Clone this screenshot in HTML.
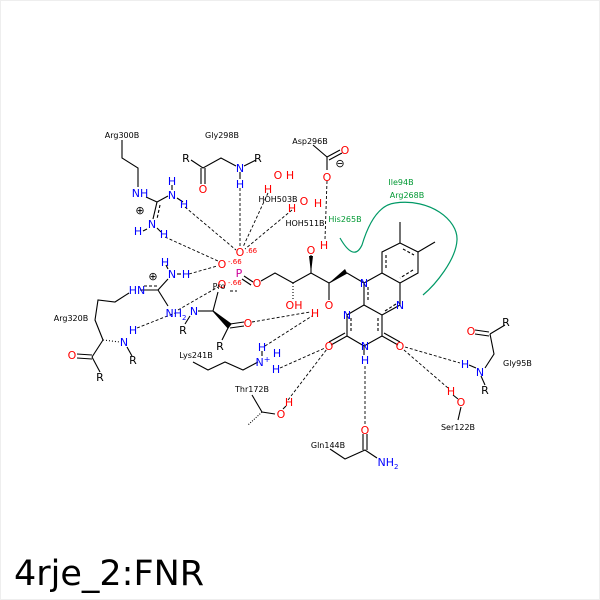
<!DOCTYPE html>
<html><head><meta charset="utf-8"><style>
html,body{margin:0;padding:0;background:#fff;}
svg{display:block;}
text{font-family:"DejaVu Sans","Liberation Sans",sans-serif;}
.s{font-size:8px;fill:#000;}
.b{font-size:11px;fill:#0000ff;}
.r{font-size:11px;fill:#ff0000;}
.g{font-size:8px;fill:#009933;}
.k{font-size:11px;fill:#000;}
</style></head><body>
<svg width="600" height="600" viewBox="0 0 600 600" xmlns="http://www.w3.org/2000/svg">
<rect width="600" height="600" fill="#fff"/>
<rect x="0.5" y="0.5" width="599" height="599" fill="none" stroke="#eee"/>
<g stroke="#000" stroke-width="1.1" fill="none">
<polyline points="400,243 418,252 418,273 400,283 382,273 382,252 400,243"/>
<line x1="400" y1="243" x2="400" y2="222"/><line x1="418" y1="252" x2="435" y2="242"/>
<line x1="403" y1="249" x2="414" y2="255" stroke-dasharray="3,2"/>
<line x1="413" y1="270" x2="400" y2="278" stroke-dasharray="3,2"/>
<line x1="386" y1="255" x2="386" y2="270" stroke-dasharray="3,2"/>
<polyline points="382,273 364,283 364,305 382,315 400,305 400,283"/>
<line x1="368" y1="287" x2="368" y2="302" stroke-dasharray="3,2"/>
<line x1="385" y1="311" x2="396" y2="304" stroke-dasharray="3,2"/>
<polyline points="364,305 347,315 347,336 364,346 382,336 382,315"/>
<line x1="351" y1="318" x2="351" y2="333" stroke-dasharray="3,2"/>
<line x1="378" y1="318" x2="378" y2="333" stroke-dasharray="3,2"/>
<line x1="347" y1="336" x2="331" y2="345"/><line x1="345" y1="333" x2="329" y2="342"/>
<line x1="382" y1="336" x2="398" y2="345"/><line x1="384" y1="333" x2="400" y2="342"/>
<line x1="364" y1="346" x2="364" y2="355"/>
<polyline points="364,283 347,273 329,283 311,273 293,283 275,273 261,281"/>
<line x1="311" y1="273" x2="311" y2="255"/>
<line x1="329" y1="283" x2="329" y2="300"/>
<line x1="293" y1="283" x2="293" y2="300" stroke-dasharray="1,2"/>
<line x1="244" y1="276" x2="253" y2="282"/><line x1="242" y1="279" x2="251" y2="285"/>
<polyline points="191,160 203,168 221,158 236,166"/><line x1="244" y1="166" x2="256" y2="160"/>
<line x1="201" y1="168" x2="201" y2="184"/><line x1="205" y1="168" x2="205" y2="184"/>
<line x1="240" y1="172" x2="240" y2="179"/>
<polyline points="313,145 327,157 327,170"/><line x1="327" y1="157" x2="340" y2="150"/><line x1="329" y1="160" x2="342" y2="153"/>
<polyline points="122,140 122,158 138,168 138,187"/>
<line x1="146" y1="197" x2="157" y2="202"/><line x1="157" y1="202" x2="168" y2="196"/>
<line x1="157" y1="202" x2="153" y2="219"/><line x1="160" y1="205" x2="157" y2="219" stroke-dasharray="3,2"/>
<line x1="172" y1="185" x2="172" y2="190"/><line x1="177" y1="198" x2="183" y2="202"/>
<line x1="147" y1="229" x2="143" y2="231"/><line x1="157" y1="228" x2="161" y2="232"/>
<line x1="140" y1="290" x2="158" y2="290"/><line x1="144" y1="286" x2="158" y2="286" stroke-dasharray="3,2"/>
<line x1="158" y1="290" x2="168" y2="279"/><line x1="158" y1="290" x2="168" y2="306"/>
<line x1="166" y1="265" x2="168" y2="269"/><line x1="177" y1="274" x2="181" y2="274"/>
<polyline points="129,293 115,302 98,300 95,320 103,340"/>
<line x1="103" y1="340" x2="120" y2="342" stroke-dasharray="1,2"/>
<line x1="103" y1="340" x2="92" y2="357"/><line x1="92" y1="357" x2="100" y2="372"/>
<line x1="92" y1="355" x2="77" y2="354"/><line x1="92" y1="359" x2="77" y2="358"/>
<line x1="127" y1="347" x2="132" y2="356"/>
<line x1="213" y1="311" x2="218" y2="292"/>
<line x1="213" y1="311" x2="198" y2="311"/><line x1="190" y1="316" x2="185" y2="324"/>
<polygon points="213,311 231,324 228,328" fill="#000"/>
<line x1="229" y1="326" x2="222" y2="340"/>
<line x1="230" y1="324" x2="244" y2="322"/><line x1="230" y1="328" x2="244" y2="326"/>
<line x1="230" y1="291" x2="237" y2="291" stroke-dasharray="3,2"/>
<polyline points="193,362 208,370 225,362 243,370 258,362"/>
<line x1="262" y1="351" x2="262" y2="356"/>
<polyline points="252,395 262,412 275,414"/>
<line x1="262" y1="412" x2="248" y2="425" stroke-dasharray="1,1.5"/>
<line x1="283" y1="409" x2="286" y2="406"/>
<polyline points="485,368 494,354 490,334"/><line x1="490" y1="334" x2="505" y2="325"/>
<line x1="489" y1="332" x2="475" y2="330"/><line x1="489" y1="336" x2="475" y2="334"/>
<line x1="481" y1="376" x2="485" y2="385"/>
<line x1="469" y1="365" x2="476" y2="368"/>
<line x1="461" y1="407" x2="458" y2="420"/><line x1="453" y1="395" x2="458" y2="399"/>
<polyline points="330,449 345,459 365,450 377,458"/>
<line x1="363" y1="450" x2="363" y2="434"/><line x1="367" y1="450" x2="367" y2="434"/>
</g>
<polygon points="311,273 309,256 313,256" fill="#000"/>
<polygon points="329,283 347,273 345,269" fill="#000"/>
<path d="M340,238 C348,252 356,258 362,245 C368,225 378,205 395,203 C430,198 458,220 457,240 C456,260 435,285 423,295" fill="none" stroke="#009966" stroke-width="1.2"/>
<g stroke="#000" stroke-width="0.9" stroke-dasharray="3,2" fill="none">
<line x1="240" y1="188" x2="240" y2="247"/>
<line x1="268" y1="193" x2="243" y2="247"/>
<line x1="292" y1="210" x2="245" y2="249"/>
<line x1="327" y1="181" x2="325" y2="239"/>
<line x1="185" y1="207" x2="236" y2="250"/>
<line x1="165" y1="237" x2="218" y2="261"/>
<line x1="189" y1="274" x2="217" y2="266"/>
<line x1="178" y1="310" x2="218" y2="287"/>
<line x1="137" y1="328" x2="175" y2="313"/>
<line x1="252" y1="322" x2="310" y2="312"/>
<line x1="265" y1="346" x2="312" y2="316"/>
<line x1="280" y1="368" x2="325" y2="348"/>
<line x1="288" y1="400" x2="327" y2="349"/>
<line x1="365" y1="366" x2="365" y2="425"/>
<line x1="405" y1="347" x2="460" y2="363"/>
<line x1="404" y1="350" x2="448" y2="388"/>
</g>
<g text-anchor="middle">
<text class="b" x="364" y="287">N</text>
<text class="b" x="400" y="309">N</text>
<text class="b" x="347" y="319">N</text>
<text class="b" x="365" y="350">N</text>
<text class="b" x="365" y="364">H</text>
<text class="r" x="329" y="350">O</text>
<text class="r" x="400" y="350">O</text>
<text class="r" x="311" y="254">O</text>
<text class="r" x="324" y="249">H</text>
<text class="r" x="329" y="309">O</text>
<text class="r" x="315" y="317">H</text>
<text class="r" x="294" y="309">OH</text>
<text class="r" x="257" y="287">O</text>
<text x="239" y="277" style="font-size:11px;fill:#cc0099">P</text>
<text class="r" x="240" y="256">O</text>
<text class="r" x="222" y="268">O</text>
<text class="r" x="222" y="288">O</text>
<text class="r" x="278" y="179">O</text><text class="r" x="290" y="179">H</text>
<text class="r" x="268" y="193">H</text>
<text class="r" x="304" y="205">O</text><text class="r" x="318" y="207">H</text>
<text class="r" x="292" y="212">H</text>
<text class="r" x="203" y="193">O</text>
<text class="b" x="240" y="172">N</text><text class="b" x="240" y="188">H</text>
<text class="k" x="186" y="162">R</text><text class="k" x="258" y="162">R</text>
<text class="r" x="327" y="181">O</text><text class="r" x="345" y="154">O</text>
<text class="k" x="340" y="167">⊖</text>
<text class="b" x="140" y="197">NH</text>
<text class="b" x="172" y="185">H</text>
<text class="b" x="172" y="199">N</text>
<text class="b" x="184" y="208">H</text>
<text class="k" x="140" y="214">⊕</text>
<text class="b" x="152" y="228">N</text>
<text class="b" x="138" y="235">H</text>
<text class="b" x="164" y="238">H</text>
<text class="k" x="153" y="280">⊕</text>
<text class="b" x="165" y="266">H</text>
<text class="b" x="172" y="278">N</text><text class="b" x="186" y="278">H</text>
<text class="b" x="137" y="294">HN</text>
<text class="b" x="176" y="317">NH<tspan style="font-size:7px" dy="3">2</tspan></text>
<text class="b" x="133" y="334">H</text>
<text class="b" x="124" y="346">N</text>
<text class="k" x="133" y="364">R</text>
<text class="r" x="72" y="359">O</text>
<text class="k" x="100" y="381">R</text>
<text class="b" x="194" y="315">N</text><text class="k" x="183" y="334">R</text>
<text class="r" x="248" y="327">O</text><text class="k" x="220" y="350">R</text>
<text class="b" x="262" y="351">H</text>
<text class="b" x="263" y="366">N<tspan style="font-size:8px" dy="-4">+</tspan></text>
<text class="b" x="277" y="357">H</text>
<text class="b" x="276" y="373">H</text>
<text class="r" x="281" y="418">O</text><text class="r" x="289" y="406">H</text>
<text class="b" x="465" y="368">H</text><text class="b" x="480" y="376">N</text>
<text class="k" x="485" y="394">R</text>
<text class="r" x="471" y="335">O</text><text class="k" x="506" y="326">R</text>
<text class="r" x="451" y="395">H</text><text class="r" x="461" y="406">O</text>
<text class="r" x="365" y="434">O</text>
<text class="b" x="388" y="466">NH<tspan style="font-size:7px" dy="3">2</tspan></text>
</g>
<g style="font-size:7px;fill:#ff0000">
<text x="246" y="253">.66</text><text x="228" y="264">-.66</text><text x="228" y="285">-.66</text>
</g>
<g text-anchor="middle">
<text class="s" x="122" y="138">Arg300B</text>
<text class="s" x="222" y="138">Gly298B</text>
<text class="s" x="310" y="144">Asp296B</text>
<text class="s" x="278" y="202">HOH503B</text>
<text class="s" x="305" y="226">HOH511B</text>
<text class="g" x="401" y="185">Ile94B</text>
<text class="g" x="407" y="198">Arg268B</text>
<text class="g" x="345" y="222">His265B</text>
<text class="s" x="71" y="321">Arg320B</text>
<text class="s" x="219" y="289">Pro</text>
<text class="s" x="196" y="358">Lys241B</text>
<text class="s" x="252" y="392">Thr172B</text>
<text class="s" x="458" y="430">Ser122B</text>
<text class="s" x="328" y="448">Gln144B</text>
</g>
<text class="s" x="503" y="366">Gly95B</text>
<text x="14" y="585" style="font-size:35px;fill:#000">4rje_2:FNR</text>
</svg>
</body></html>
